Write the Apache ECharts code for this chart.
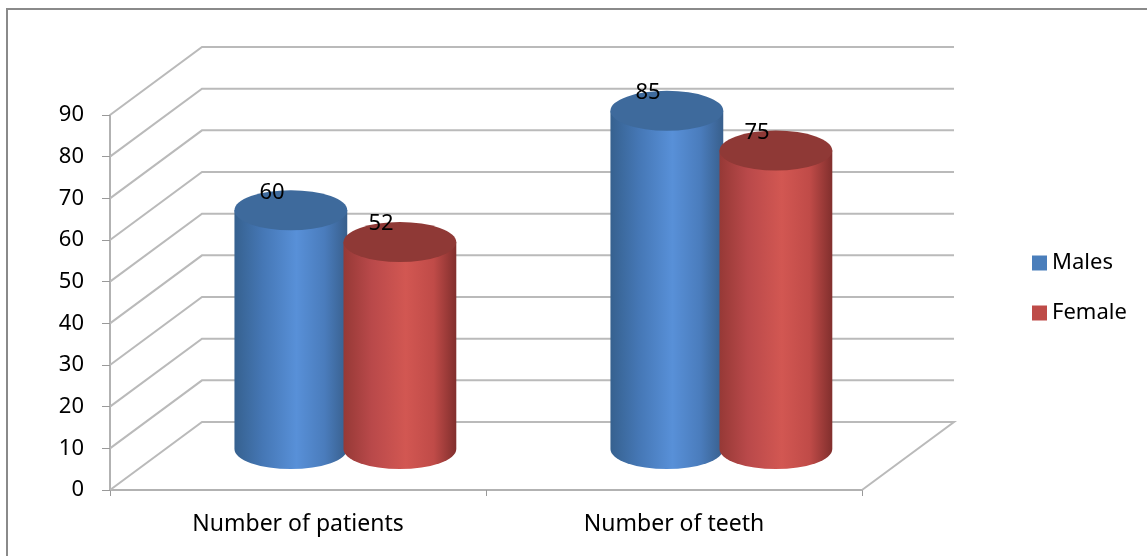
<!DOCTYPE html>
<html>
<head>
<meta charset="utf-8">
<script src="https://cdn.jsdelivr.net/npm/echarts/dist/echarts.min.js"></script>
<style>
  html, body { margin: 0; padding: 0; background: #fff; }
  #main { width: 1147px; height: 556px; }
</style>
</head>
<body>
<div id="main"></div>
<script>
// data
const categories = ['Number of patients', 'Number of teeth'];
const males = [60, 85];
const female = [52, 75];
const yTicks = [0, 10, 20, 30, 40, 50, 60, 70, 80, 90];

const FONT = 'Noto Sans';
// depth of the fake 3d box
const DX = 92, DY = 68;

function renderWall(params, api) {
  const cs = params.coordSys;
  const v = api.value(1);
  const y = api.coord([0, v])[1];
  const l = cs.x, r = cs.x + cs.width;
  const pts = [[l, y], [l + DX, y - DY], [r + DX, y - DY]];
  if (v === 0) pts.push([r, y]);
  return {
    type: 'polyline',
    silent: true,
    shape: { points: pts },
    style: { stroke: '#bababa', lineWidth: 2, fill: null }
  };
}

function cylinder(stops, topColor, side) {
  return function (params, api) {
    const i = api.value(0), v = api.value(1);
    const band = api.size([1, 0])[0];
    const front = api.coord([i, v]);
    const zero = api.coord([i, 0]);
    const rx = band * 0.15, ry = 20;
    const cx = front[0] + band * 0.126 + side * band * 0.145;
    const baseY = zero[1] - 41;
    const topY = baseY - (zero[1] - front[1]) * 0.955;
    const l = cx - rx, r = cx + rx;
    const body = 'M' + l + ' ' + topY + ' L' + l + ' ' + baseY +
      ' A' + rx + ' ' + ry + ' 0 0 0 ' + r + ' ' + baseY +
      ' L' + r + ' ' + topY + ' Z';
    const top = 'M' + l + ' ' + topY +
      ' A' + rx + ' ' + ry + ' 0 1 0 ' + r + ' ' + topY +
      ' A' + rx + ' ' + ry + ' 0 1 0 ' + l + ' ' + topY + ' Z';
    return {
      type: 'group',
      children: [
        {
          type: 'path',
          shape: { pathData: body },
          style: { fill: new echarts.graphic.LinearGradient(0, 0, 1, 0, stops) }
        },
        {
          type: 'path',
          shape: { pathData: top },
          style: { fill: topColor }
        },
        {
          type: 'text',
          x: cx - band * 0.05,
          y: topY - ry + 2,
          style: {
            text: String(v), fill: '#000', fontSize: 22, fontFamily: FONT,
            align: 'center', verticalAlign: 'middle'
          }
        }
      ]
    };
  };
}

const chart = echarts.init(document.getElementById('main'));

chart.setOption({
  animation: false,
  backgroundColor: '#fff',
  graphic: [{
    type: 'rect',
    shape: { x: 7, y: 9, width: 1160, height: 600 },
    style: { fill: null, stroke: '#8a8a8a', lineWidth: 2 },
    silent: true
  }],
  grid: { left: 110, right: 285, top: 115, bottom: 66 },
  legend: {
    orient: 'vertical',
    left: 1027,
    top: 247,
    itemWidth: 15,
    itemHeight: 15,
    itemGap: 28,
    icon: 'rect',
    textStyle: { fontSize: 22, fontFamily: FONT, color: '#000' },
    data: ['Males', 'Female']
  },
  xAxis: {
    type: 'category',
    data: categories,
    axisLine: { lineStyle: { color: '#999', width: 1.5 } },
    axisTick: { show: true, length: 6, lineStyle: { color: '#999' } },
    axisLabel: { fontSize: 23, fontFamily: FONT, color: '#000', margin: 23 }
  },
  yAxis: {
    type: 'value',
    min: 0,
    max: 90,
    interval: 10,
    axisLine: { show: true, lineStyle: { color: '#999', width: 1.5 } },
    axisTick: { show: true, length: 8, lineStyle: { color: '#999' } },
    axisLabel: { fontSize: 22, fontFamily: FONT, color: '#000', margin: 26 },
    splitLine: { show: false }
  },
  series: [
    {
      name: 'walls',
      type: 'custom',
      silent: true,
      renderItem: renderWall,
      data: yTicks.map(v => [0, v])
    },
    {
      name: 'Males',
      type: 'custom',
      itemStyle: { color: '#4a7ebb' },
      renderItem: cylinder([
        { offset: 0, color: '#36618f' },
        { offset: 0.25, color: '#4577b5' },
        { offset: 0.55, color: '#5890d8' },
        { offset: 0.8, color: '#4a7cbc' },
        { offset: 1, color: '#385f8c' }
      ], '#3e6a9c', -1),
      data: males.map((v, i) => [i, v])
    },
    {
      name: 'Female',
      type: 'custom',
      itemStyle: { color: '#be4b48' },
      renderItem: cylinder([
        { offset: 0, color: '#963936' },
        { offset: 0.25, color: '#b9494a' },
        { offset: 0.55, color: '#d25752' },
        { offset: 0.8, color: '#c04b48' },
        { offset: 1, color: '#812f2d' }
      ], '#8f3936', 1),
      data: female.map((v, i) => [i, v])
    }
  ]
});
</script>
</body>
</html>
